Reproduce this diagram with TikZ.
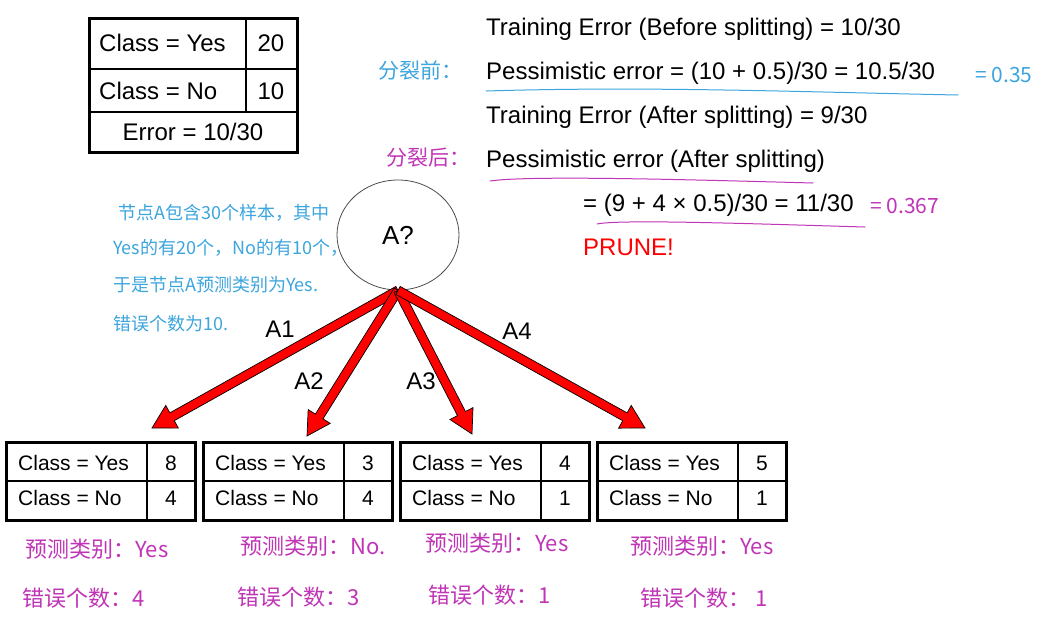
\documentclass[tikz,border=0pt]{standalone}
\usepackage{fontspec}
\setmainfont{Liberation Sans}
\newfontfamily\cjk{Noto Sans CJK SC}
\usetikzlibrary{calc,shapes.geometric}
\definecolor{hblue}{RGB}{60,165,222}
\definecolor{hmag}{RGB}{192,52,182}
\newcommand\fatarrow[2]{%
  \coordinate (#2b) at ($(#2)!23pt!(#1)$);
  \draw[fatarr] ($(#1)!4.5pt!-90:(#2)$) -- ($(#2b)!4.5pt!-90:(#2)$) -- ($(#2b)!13pt!-90:(#2)$)
    -- (#2) -- ($(#2b)!13pt!90:(#2)$) -- ($(#2b)!4.5pt!90:(#2)$) -- ($(#1)!4.5pt!90:(#2)$) -- cycle;
}
\begin{document}
\begin{tikzpicture}[x=1pt,y=-1pt,
  txt/.style={font=\fontsize{24}{28}\selectfont, inner sep=0pt},
  cell/.style={font=\fontsize{21}{25}\selectfont, inner sep=0pt},
  hw/.style={font=\cjk\fontsize{18}{21}\selectfont, inner sep=0pt, text=hblue, anchor=west},
  hm/.style={font=\cjk\fontsize{22}{25}\selectfont, inner sep=0pt, text=hmag, anchor=west},
  big/.style={font=\cjk\fontsize{21}{24}\selectfont},
  tbl/.style={draw=black, line width=3pt, inner sep=0pt},
  grid/.style={draw=black, line width=1.2pt},
  fatarr/.style={fill=red, draw=black, line width=0.7pt, line join=miter},
  ul/.style={line width=1pt, line cap=round}]
\useasboundingbox[fill=white] (0,0) rectangle (1055,629);

% ---- top table
\node[tbl, minimum width=208pt, minimum height=134pt] (t0) at (193,85) {};
\draw[grid] (246,18) -- (246,112);
\draw[grid] (89,69) -- (297,69);
\draw[grid] (89,112) -- (297,112);
\node[txt, anchor=base west] (t0a) at (99,51) {Class = Yes};
\node[txt, anchor=base] (t0b) at (271,51) {20};
\node[txt, anchor=base west] (t0c) at (99,99) {Class = No};
\node[txt, anchor=base] (t0d) at (271,99) {10};
\node[txt, anchor=base] (t0e) at (193,140) {Error = 10/30};

% ---- right-hand text
\node[txt, anchor=base west] (l1) at (486,35) {Training Error (Before splitting) = 10/30};
\node[txt, anchor=base west] (l2) at (486,79) {Pessimistic error = (10 + 0.5)/30 = 10.5/30};
\node[txt, anchor=base west] (l3) at (486,123) {Training Error (After splitting) = 9/30};
\node[txt, anchor=base west] (l4) at (486,167) {Pessimistic error (After splitting)};
\node[txt, anchor=base west] (l5) at (583,211) {= (9 + 4 × 0.5)/30 = 11/30};
\node[txt, anchor=base west, text=red] (l6) at (583,255) {PRUNE!};

% handwritten annotations
\draw[ul, hblue] (486,91) .. controls (650,86) and (800,92) .. (958,95);
\draw[ul, hmag] (490,181) .. controls (530,175) and (700,180) .. (813,183);
\draw[ul, hmag] (597,224) .. controls (620,219) and (760,224) .. (865,227);
\node[hw, big] (n1) at (378,70) {分裂前：};
\node[hm, big] (n2) at (386,158) {分裂后：};
\node[hw, big] (n3) at (975,75) {= 0.35};
\node[hm, big] (n4) at (870,206) {= 0.367};

\node[hw] (b1) at (118,213) {节点A包含30个样本，其中};
\node[hw] (b2) at (113,248) {Yes的有20个，No的有10个，};
\node[hw] (b3) at (113,285) {于是节点A预测类别为Yes.};
\node[hw] (b4) at (113,324) {错误个数为10.};

% ---- root node
\node[ellipse, draw=black!70, line width=0.8pt, minimum width=122pt, minimum height=110pt,
      font=\fontsize{26}{30}\selectfont] (A) at (398,235) {A?};

% ---- arrow ends
\coordinate (e1) at (152,428);
\coordinate (e2) at (307,436);
\coordinate (e3) at (472,434);
\coordinate (e4) at (645,428);
\fatarrow{A.south}{e1}
\fatarrow{A.south}{e2}
\fatarrow{A.south}{e3}
\fatarrow{A.south}{e4}
\node[txt] (a1) at (280,329) {A1};
\node[txt] (a2) at (309,381) {A2};
\node[txt] (a3) at (421,381) {A3};
\node[txt] (a4) at (517,331) {A4};

% ---- bottom tables
\foreach \i/\x/\y/\n in {1/6/8/4, 2/203/3/4, 3/400/4/1, 4/597/5/1}{
  \node[tbl, minimum width=189pt, minimum height=78pt] (t\i) at (\x+94.5,481) {};
  \draw[grid] (\x+141,442) -- (\x+141,520);
  \draw[grid] (\x,481) -- (\x+189,481);
  \node[cell, anchor=base west] (t\i a) at (\x+12,470) {Class = Yes};
  \node[cell, anchor=base] (t\i b) at (\x+165,470) {\y};
  \node[cell, anchor=base west] (t\i c) at (\x+12,505) {Class = No};
  \node[cell, anchor=base] (t\i d) at (\x+165,505) {\n};
}

% ---- handwritten notes under tables
\node[hm] (p1) at (25,549) {预测类别：Yes};
\node[hm] (q1) at (22,598) {错误个数：4};
\node[hm] (p2) at (240,546) {预测类别：No.};
\node[hm] (q2) at (237,597) {错误个数：3};
\node[hm] (p3) at (425,543) {预测类别：Yes};
\node[hm] (q3) at (428,595) {错误个数：1};
\node[hm] (p4) at (630,546) {预测类别：Yes};
\node[hm] (q4) at (640,598) {错误个数： 1};
\end{tikzpicture}
\end{document}
